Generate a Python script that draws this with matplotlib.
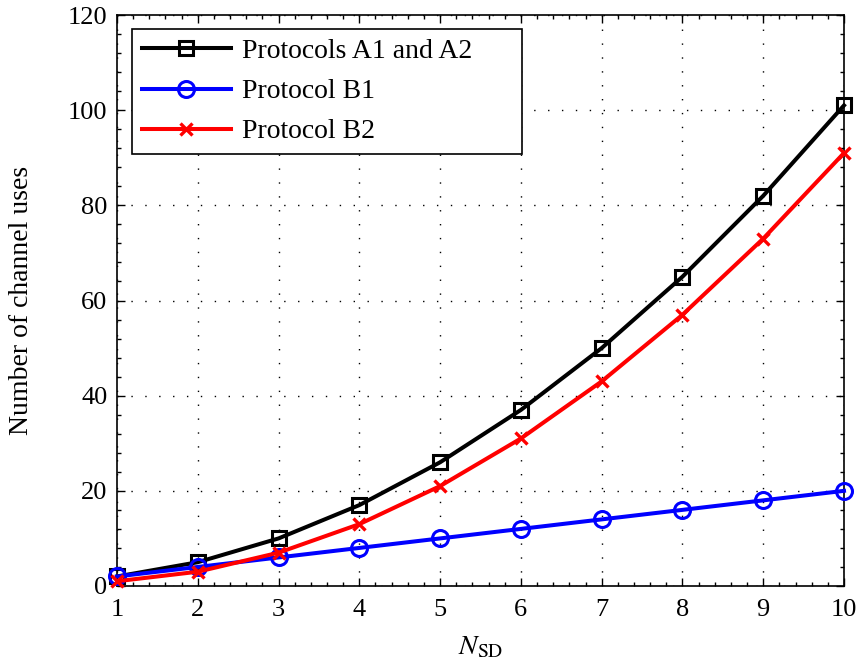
import matplotlib
matplotlib.use("Agg")
import matplotlib.pyplot as plt
from matplotlib.ticker import AutoMinorLocator

plt.rcParams['font.family'] = ['Liberation Serif', 'DejaVu Serif']
plt.rcParams['mathtext.fontset'] = 'stix'

n_sd = [1, 2, 3, 4, 5, 6, 7, 8, 9, 10]
protocol_a = [2, 5, 10, 17, 26, 37, 50, 65, 82, 101]
protocol_b1 = [2, 4, 6, 8, 10, 12, 14, 16, 18, 20]
protocol_b2 = [1, 3, 7, 13, 21, 31, 43, 57, 73, 91]

fig = plt.figure(figsize=(8.58, 6.71), dpi=100)
ax = fig.add_axes([117/858, 1 - 586/671, (844 - 117)/858, (586 - 15)/671])

ax.plot(n_sd, protocol_a, color='black', lw=2.9, marker='s', ms=10.5,
        mfc='none', mew=2.2, label='Protocols A1 and A2', clip_on=False, zorder=3)
ax.plot(n_sd, protocol_b1, color='blue', lw=2.9, marker='o', ms=11.5,
        mfc='none', mew=2.2, label='Protocol B1', clip_on=False, zorder=3)
ax.plot(n_sd, protocol_b2, color='red', lw=2.9, marker='x', ms=8.5,
        mew=2.4, label='Protocol B2', clip_on=False, zorder=3)

ax.set_xlim(1, 10)
ax.set_ylim(0, 120)
ax.set_xticks(range(1, 11))
ax.set_yticks(range(0, 121, 20))
ax.xaxis.set_minor_locator(AutoMinorLocator(5))
ax.yaxis.set_minor_locator(AutoMinorLocator(5))
ax.tick_params(which='both', direction='in', top=True, right=True, width=1)
ax.tick_params(which='major', length=6, labelsize=19)
ax.tick_params(which='minor', length=3)
ax.tick_params(axis='x', pad=9)
ax.tick_params(axis='y', pad=7)
for s in ax.spines.values():
    s.set_linewidth(1.2)
ax.grid(True, which='major', linestyle=(0, (1, 9)), color='black', lw=1)
ax.set_xlabel(r'$N_{\mathrm{SD}}$', fontsize=20, labelpad=10)
ax.set_ylabel('Number of channel uses', fontsize=20, labelpad=24)

leg = ax.legend(loc='upper left', fontsize=20, fancybox=False, edgecolor='black',
                bbox_to_anchor=(15/727, 1 - 14/571, 390/727, 0), mode='expand',
                handlelength=3.2, handletextpad=0.4, borderpad=0.35,
                labelspacing=0.53, borderaxespad=0, framealpha=1)
leg.get_frame().set_linewidth(1.2)

fig.savefig('out.png', dpi=100)
